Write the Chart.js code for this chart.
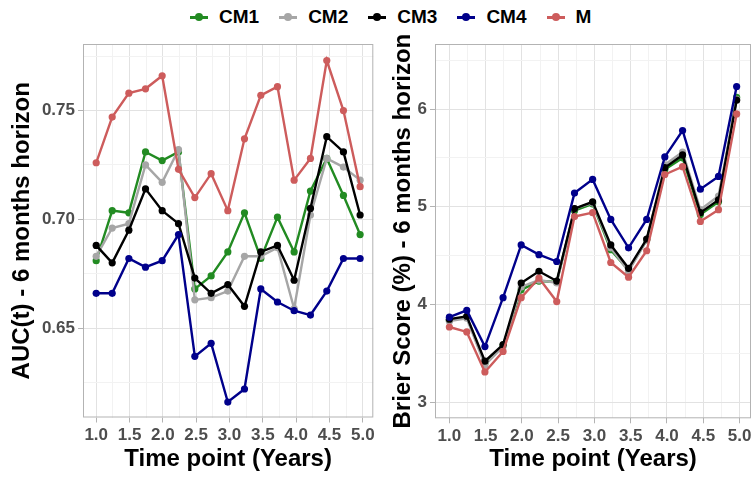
<!DOCTYPE html>
<html>
<head>
<meta charset="utf-8">
<script src="https://cdn.jsdelivr.net/npm/chart.js@4.4.1/dist/chart.umd.min.js"></script>
<style>
  html, body { margin: 0; padding: 0; background: #fff; }
  body { width: 755px; height: 477px; overflow: hidden; position: relative; font-family: 'Liberation Sans', Arial, sans-serif; }
  #legend { position: absolute; top: 5px; left: 190px; height: 24px; display: flex; align-items: center; }
  .item { display: flex; align-items: center; margin-right: 20px; font-weight: bold; font-size: 19px; color: #000; }
  .mk { position: relative; width: 18px; height: 10px; margin-right: 11px; }
  .mk .ln { position: absolute; left: 0; top: 4px; width: 18px; height: 3px; }
  .mk .dt { position: absolute; left: 5px; top: 1px; width: 8px; height: 8px; border-radius: 50%; }
  #w1 { position: absolute; left: 0; top: 0; width: 380px; height: 477px; }
  #w2 { position: absolute; left: 380px; top: 0; width: 375px; height: 477px; }
</style>
</head>
<body>
<div id="legend"></div>
<div id="w1"><canvas id="c1"></canvas></div>
<div id="w2"><canvas id="c2"></canvas></div>
<script>
// ---- data ----
const times = [1.00, 1.24, 1.49, 1.74, 1.99, 2.235, 2.48, 2.725, 2.975, 3.225, 3.47, 3.72, 3.97, 4.215, 4.46, 4.71, 4.96];
const seriesNames = ['CM1', 'CM2', 'CM3', 'CM4', 'M'];
const seriesColors = ['#228B22', '#A6A6A6', '#000000', '#00008B', '#CD5C5C'];

const aucCM1 = [0.681, 0.704, 0.703, 0.731, 0.727, 0.731, 0.668, 0.674, 0.685, 0.703, 0.682, 0.701, 0.685, 0.713, 0.728, 0.711, 0.693];
const aucCM2 = [0.683, 0.696, 0.698, 0.725, 0.717, 0.732, 0.663, 0.664, 0.667, 0.683, 0.683, 0.687, 0.659, 0.702, 0.728, 0.724, 0.718];
const aucCM3 = [0.688, 0.680, 0.695, 0.714, 0.704, 0.698, 0.673, 0.666, 0.670, 0.660, 0.685, 0.688, 0.672, 0.705, 0.738, 0.731, 0.702];
const aucCM4 = [0.666, 0.666, 0.682, 0.678, 0.681, 0.693, 0.637, 0.643, 0.616, 0.622, 0.668, 0.662, 0.658, 0.656, 0.667, 0.682, 0.682];
const aucM   = [0.726, 0.747, 0.758, 0.760, 0.766, 0.723, 0.710, 0.721, 0.704, 0.737, 0.757, 0.761, 0.718, 0.728, 0.773, 0.750, 0.715];

const brCM1 = [3.84, 3.87, 3.40, 3.58, 4.15, 4.24, 4.23, 4.96, 5.03, 4.56, 4.35, 4.66, 5.38, 5.50, 4.92, 5.05, 6.12];
const brCM2 = [3.83, 3.86, 3.38, 3.57, 4.18, 4.25, 4.22, 4.98, 5.04, 4.58, 4.34, 4.66, 5.43, 5.56, 4.97, 5.11, 6.10];
const brCM3 = [3.85, 3.88, 3.42, 3.59, 4.22, 4.34, 4.24, 4.98, 5.05, 4.61, 4.37, 4.67, 5.40, 5.53, 4.94, 5.07, 6.09];
const brCM4 = [3.87, 3.94, 3.57, 4.07, 4.61, 4.51, 4.44, 5.14, 5.28, 4.87, 4.58, 4.87, 5.51, 5.78, 5.18, 5.31, 6.23];
const brM   = [3.77, 3.72, 3.31, 3.52, 4.07, 4.27, 4.03, 4.90, 4.94, 4.43, 4.28, 4.55, 5.33, 5.41, 4.85, 4.97, 5.95];

// ---- ticks ----
const xTicks = [1.0, 1.25, 1.5, 1.75, 2.0, 2.25, 2.5, 2.75, 3.0, 3.25, 3.5, 3.75, 4.0, 4.25, 4.5, 4.75, 5.0];
const xMajor = [1.0, 1.5, 2.0, 2.5, 3.0, 3.5, 4.0, 4.5, 5.0];
const aucTicks = [0.625, 0.65, 0.675, 0.70, 0.725, 0.75, 0.775];
const aucMajor = [0.65, 0.70, 0.75];
const brTicks = [3, 3.5, 4, 4.5, 5, 5.5, 6, 6.5];
const brMajor = [3, 4, 5, 6];

const FONT = "'Liberation Sans', Arial, sans-serif";
const isIn = (arr, v) => arr.some(a => Math.abs(a - v) < 1e-9);

// legend (HTML)
const lg = document.getElementById('legend');
seriesNames.forEach((n, i) => {
  const it = document.createElement('div'); it.className = 'item';
  it.innerHTML = '<span class="mk"><span class="ln" style="background:' + seriesColors[i] + '"></span><span class="dt" style="background:' + seriesColors[i] + '"></span></span>' + n;
  lg.appendChild(it);
});

const frame = {
  id: 'frame',
  beforeDatasetsDraw(ch) {
    const { ctx, chartArea: a } = ch;
    ctx.save(); ctx.strokeStyle = '#b3b3b3'; ctx.lineWidth = 1;
    ctx.strokeRect(a.left + 0.5, a.top + 0.5, a.right - a.left - 1, a.bottom - a.top - 1);
    ctx.restore();
  }
};

function makeDatasets(arrs) {
  return arrs.map((d, i) => ({
    label: seriesNames[i],
    data: times.map((t, k) => ({ x: t, y: d[k] })),
    borderColor: seriesColors[i],
    backgroundColor: seriesColors[i],
    borderWidth: 2.4,
    pointRadius: 3.6,
    pointHoverRadius: 3.6,
    pointBorderWidth: 0,
    tension: 0,
    order: arrs.length - i
  }));
}

function makeChart(id, arrs, cfg) {
  const gridColor = (major) => (c) => isIn(major, c.tick.value) ? '#e2e2e2' : '#f2f2f2';
  const tickColor = (major) => (c) => isIn(major, c.tick.value) ? '#b3b3b3' : 'rgba(0,0,0,0)';
  return new Chart(document.getElementById(id), {
    type: 'line',
    data: { datasets: makeDatasets(arrs) },
    plugins: [frame],
    options: {
      responsive: true, maintainAspectRatio: false, animation: false,
      layout: { padding: { top: 44, right: cfg.padRight, bottom: 0, left: 0 } },
      plugins: { legend: { display: false }, tooltip: { enabled: false } },
      scales: {
        x: {
          type: 'linear', min: 0.802, max: 5.158,
          afterBuildTicks: s => { s.ticks = xTicks.map(v => ({ value: v })); },
          afterFit: s => { s.height = cfg.xHeight; },
          border: { display: false },
          grid: { color: gridColor(xMajor), lineWidth: 1, tickLength: 5, tickColor: tickColor(xMajor) },
          ticks: { autoSkip: false, maxRotation: 0, padding: 3, color: '#4d4d4d',
                   font: { family: FONT, size: 17, weight: 'bold' },
                   callback: v => isIn(xMajor, v) ? v.toFixed(1) : '' },
          title: { display: true, text: 'Time point (Years)', color: '#000',
                   font: { family: FONT, size: 24, weight: 'bold' }, padding: { top: 0, bottom: 3 } }
        },
        y: {
          type: 'linear', min: cfg.ymin, max: cfg.ymax,
          afterBuildTicks: s => { s.ticks = cfg.yTicks.map(v => ({ value: v })); },
          afterFit: s => { s.width = cfg.yWidth; },
          border: { display: false },
          grid: { color: gridColor(cfg.yMajor), lineWidth: 1, tickLength: 5, tickColor: tickColor(cfg.yMajor) },
          ticks: { autoSkip: false, padding: 3, color: '#4d4d4d',
                   font: { family: FONT, size: 17, weight: 'bold' },
                   callback: v => isIn(cfg.yMajor, v) ? cfg.fmt(v) : '' },
          title: { display: true, text: cfg.yTitle, color: '#000',
                   font: { family: FONT, size: 24, weight: 'bold' }, padding: { top: cfg.titlePad, bottom: 0 } }
        }
      }
    }
  });
}

makeChart('c1', [aucCM1, aucCM2, aucCM3, aucCM4, aucM], {
  padRight: 6.7, xHeight: 59.5, yWidth: 83, ymin: 0.6089, ymax: 0.7806,
  yTicks: aucTicks, yMajor: aucMajor, fmt: v => v.toFixed(2),
  yTitle: 'AUC(t) - 6 months horizon', titlePad: 7.6
});
makeChart('c2', [brCM1, brCM2, brCM3, brCM4, brM], {
  padRight: 4, xHeight: 58.7, yWidth: 55, ymin: 2.836, ymax: 6.665,
  yTicks: brTicks, yMajor: brMajor, fmt: v => String(Math.round(v)),
  yTitle: 'Brier Score (%) - 6 months horizon', titlePad: 8.6
});
</script>
</body>
</html>
